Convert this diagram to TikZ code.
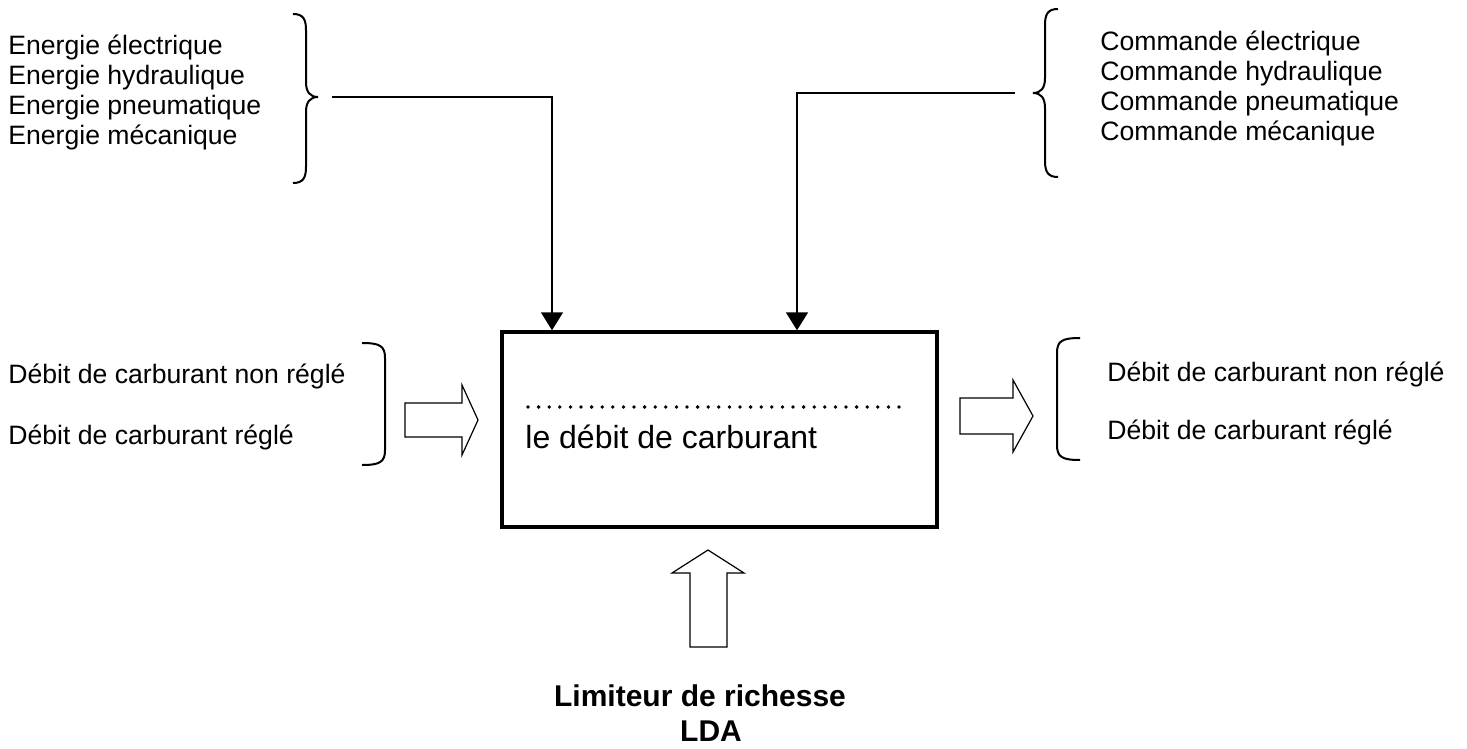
\documentclass[tikz,border=0pt]{standalone}
\usepackage{fontspec}
\setmainfont{Liberation Sans}
\usetikzlibrary{arrows.meta}
\begin{document}
\begin{tikzpicture}[x=0.5pt,y=-0.5pt,
  lbl/.style={font=\fontsize{13.3}{15}\selectfont, inner sep=0, anchor=base west},
  boxtxt/.style={font=\fontsize{16}{18}\selectfont, inner sep=0, anchor=base west},
  boldtxt/.style={font=\bfseries\fontsize{15}{17}\selectfont, inner sep=0, anchor=base},
  conn/.style={line width=0.8pt, -{Triangle[length=9pt,width=11pt]}},
  bracket/.style={line width=1pt},
  hollow/.style={line width=0.6pt, fill=white, line join=miter}]
\useasboundingbox (0,0) rectangle (1467,749);

% top-left texts
\node[lbl] (e1) at (8,54.5) {Energie électrique};
\node[lbl] (e2) at (8,84.5) {Energie hydraulique};
\node[lbl] (e3) at (8,114.5) {Energie pneumatique};
\node[lbl] (e4) at (8,144.5) {Energie mécanique};
% top-right texts
\node[lbl] (c1) at (1100,50.5) {Commande électrique};
\node[lbl] (c2) at (1100,80.5) {Commande hydraulique};
\node[lbl] (c3) at (1100,110.5) {Commande pneumatique};
\node[lbl] (c4) at (1100,140.5) {Commande mécanique};
% middle texts
\node[lbl] (in1) at (8,383) {Débit de carburant non réglé};
\node[lbl] (in2) at (8,444) {Débit de carburant réglé};
\node[lbl] (out1) at (1107,381) {Débit de carburant non réglé};
\node[lbl] (out2) at (1107,439) {Débit de carburant réglé};

% main box
\node[draw, line width=1.7pt, minimum width=217.5pt, minimum height=97.5pt, inner sep=0] (box) at (719.5,429.5) {};
\draw[line width=1.9pt, line cap=round, dash pattern=on 0pt off 5.3pt] (528,407) -- (907,407);
\node[boxtxt] (boxlabel) at (525,448) {le débit de carburant};

% bottom label
\node[boldtxt] (lim) at (700,706) {Limiteur de richesse};
\node[boldtxt] (lda) at (711,741) {LDA};

% top braces
\draw[bracket] (293,14) .. controls (303,14) and (306,19) .. (306,30) -- (306,82)
  .. controls (306,92) and (310,97) .. (318,97)
  .. controls (310,97) and (306,102) .. (306,112) -- (306,167)
  .. controls (306,178) and (303,183) .. (293,183);
\draw[bracket] (1058,9) .. controls (1048,9) and (1045,14) .. (1045,25) -- (1045,78)
  .. controls (1045,88) and (1041,93) .. (1033,93)
  .. controls (1041,93) and (1045,98) .. (1045,108) -- (1045,161)
  .. controls (1045,172) and (1048,177) .. (1058,177);
% middle brackets
\draw[bracket] (362,343) .. controls (380,343) and (385,346) .. (385,358) -- (385,450)
  .. controls (385,462) and (380,465) .. (362,465);
\draw[bracket] (1080,338) .. controls (1062,338) and (1057,341) .. (1057,353) -- (1057,445)
  .. controls (1057,457) and (1062,460) .. (1080,460);

% connectors
\coordinate (estart) at (332,97);
\coordinate (ecorner) at (552,97);
\draw[conn] (estart) -- (ecorner) -- (ecorner |- box.north);
\coordinate (cstart) at (1015,93);
\coordinate (ccorner) at (797,93);
\draw[conn] (cstart) -- (ccorner) -- (ccorner |- box.north);

% hollow arrows
\draw[hollow] (405,403) -- (462,403) -- (462,385) -- (478,420) -- (462,455) -- (462,437) -- (405,437) -- cycle;
\draw[hollow] (960,398) -- (1013,398) -- (1013,380) -- (1033,416) -- (1013,452) -- (1013,434) -- (960,434) -- cycle;
\draw[hollow] (690,647) -- (690,573) -- (672,573) -- (708,550) -- (744,573) -- (727,573) -- (727,647) -- cycle;
\end{tikzpicture}
\end{document}
